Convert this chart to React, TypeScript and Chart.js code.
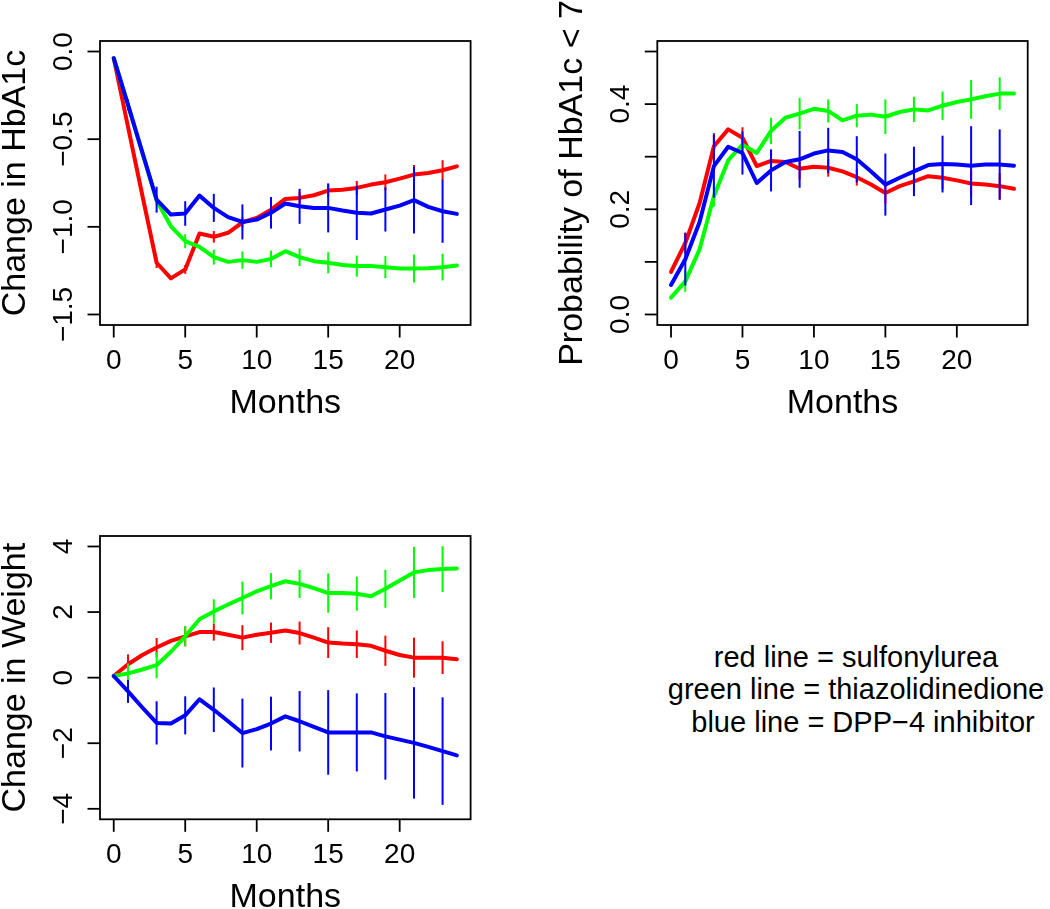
import React, { useEffect, useRef } from "react";
import { Chart, registerables } from "chart.js";

Chart.register(...registerables);

// ---------- data ----------
const months = [0, 1, 2, 3, 4, 5, 6, 7, 8, 9, 10, 11, 12, 13, 14, 15, 16, 17, 18, 19, 20, 21, 22, 23, 24];
const errorMonths = [1, 3, 5, 7, 9, 11, 13, 15, 17, 19, 21, 23];

// Panel 1: Change in HbA1c
const hba1cRed = [-0.038, -0.43, -0.82, -1.205, -1.294, -1.243, -1.038, -1.057, -1.034, -0.974, -0.949, -0.902, -0.841, -0.835, -0.82, -0.793, -0.788, -0.778, -0.759, -0.746, -0.725, -0.702, -0.693, -0.677, -0.655];
const hba1cGreen = [-0.038, -0.304, -0.575, -0.85, -0.997, -1.082, -1.114, -1.173, -1.2, -1.19, -1.2, -1.183, -1.139, -1.173, -1.196, -1.205, -1.218, -1.224, -1.224, -1.23, -1.238, -1.238, -1.236, -1.23, -1.22];
const hba1cBlue = [-0.038, -0.304, -0.575, -0.845, -0.93, -0.924, -0.822, -0.892, -0.945, -0.972, -0.959, -0.92, -0.867, -0.883, -0.892, -0.892, -0.907, -0.92, -0.924, -0.901, -0.879, -0.848, -0.886, -0.911, -0.926];
const hba1cRedErr = [0.02, 0.03, 0.025, 0.033, 0.03, 0.03, 0.035, 0.035, 0.04, 0.045, 0.055, 0.057];
const hba1cGreenErr = [0.02, 0.03, 0.04, 0.043, 0.05, 0.047, 0.05, 0.06, 0.06, 0.063, 0.08, 0.076];
const hba1cBlueErr = [0.03, 0.074, 0.07, 0.08, 0.1, 0.09, 0.1, 0.14, 0.155, 0.126, 0.19, 0.18];

// Panel 2: Probability of HbA1c < 7
const probRed = [0.081, 0.136, 0.212, 0.32, 0.352, 0.336, 0.282, 0.292, 0.29, 0.277, 0.281, 0.279, 0.272, 0.261, 0.247, 0.231, 0.244, 0.253, 0.263, 0.26, 0.255, 0.249, 0.247, 0.244, 0.239];
const probGreen = [0.032, 0.063, 0.124, 0.225, 0.293, 0.323, 0.307, 0.349, 0.374, 0.382, 0.391, 0.387, 0.369, 0.378, 0.38, 0.376, 0.385, 0.39, 0.388, 0.397, 0.404, 0.409, 0.415, 0.42, 0.42];
const probBlue = [0.056, 0.105, 0.176, 0.282, 0.319, 0.307, 0.25, 0.274, 0.29, 0.295, 0.306, 0.312, 0.309, 0.295, 0.272, 0.247, 0.26, 0.272, 0.284, 0.286, 0.285, 0.283, 0.285, 0.285, 0.283];
const probRedErr = [0.02, 0.025, 0.02, 0.02, 0.02, 0.017, 0.016, 0.02, 0.022, 0.022, 0.025, 0.025];
const probGreenErr = [0.02, 0.02, 0.02, 0.025, 0.03, 0.022, 0.022, 0.033, 0.024, 0.027, 0.037, 0.031];
const probBlueErr = [0.05, 0.06, 0.041, 0.04, 0.054, 0.043, 0.044, 0.059, 0.047, 0.054, 0.075, 0.067];

// Panel 3: Change in Weight
const weightRed = [0.05, 0.41, 0.69, 0.92, 1.12, 1.26, 1.39, 1.39, 1.31, 1.22, 1.31, 1.37, 1.44, 1.36, 1.22, 1.07, 1.04, 1.02, 0.97, 0.82, 0.69, 0.61, 0.61, 0.61, 0.56];
const weightGreen = [0.05, 0.13, 0.25, 0.38, 0.79, 1.26, 1.78, 2.02, 2.23, 2.43, 2.63, 2.79, 2.94, 2.86, 2.73, 2.58, 2.58, 2.56, 2.48, 2.71, 2.96, 3.21, 3.28, 3.31, 3.33];
const weightBlue = [0.05, -0.42, -0.91, -1.38, -1.4, -1.15, -0.66, -0.98, -1.33, -1.69, -1.57, -1.4, -1.18, -1.33, -1.5, -1.67, -1.67, -1.67, -1.67, -1.79, -1.89, -1.99, -2.11, -2.24, -2.37];
const weightRedErr = [0.3, 0.29, 0.3, 0.26, 0.38, 0.31, 0.35, 0.47, 0.42, 0.46, 0.61, 0.5];
const weightGreenErr = [0.3, 0.4, 0.31, 0.37, 0.5, 0.4, 0.43, 0.6, 0.52, 0.58, 0.78, 0.7];
const weightBlueErr = [0.35, 0.66, 0.58, 0.68, 1.05, 0.82, 0.92, 1.29, 1.19, 1.32, 1.7, 1.64];

// ---------- axes ----------
const xTicks = [0, 5, 10, 15, 20];
const xTickLabels = ["0", "5", "10", "15", "20"];
const hba1cTicks = [-1.5, -1, -0.5, 0];
const hba1cTickLabels = ["\u22121.5", "\u22121.0", "\u22120.5", "0.0"];
const probTicks = [0, 0.1, 0.2, 0.3, 0.4, 0.5];
const probTickLabels = ["0.0", "", "0.2", "", "0.4", ""];
const weightTicks = [-4, -2, 0, 2, 4];
const weightTickLabels = ["\u22124", "\u22122", "0", "2", "4"];

const legendLines = [
  "red line = sulfonylurea",
  "green line = thiazolidinedione",
  "blue line = DPP\u22124 inhibitor",
];

const RED = "#FF0000";
const GREEN = "#00FF00";
const BLUE = "#0000FF";
const FONT = "'Liberation Sans', Arial, Helvetica, sans-serif";

type Series = { values: number[]; err: number[]; color: string };
type PanelProps = {
  left: number;
  top: number;
  width: number;
  height: number;
  pad: { left: number; top: number; right: number; bottom: number };
  yMin: number;
  yMax: number;
  yTicks: number[];
  yTickLabels: string[];
  yTitle: string;
  series: Series[]; // index 0 drawn on top
};

function Panel(p: PanelProps) {
  const ref = useRef<HTMLCanvasElement>(null);
  useEffect(() => {
    const canvas = ref.current as HTMLCanvasElement;
    const rPlugin = {
      id: "rAxes",
      afterDatasetDraw(chart: any, args: any) {
        const s = p.series[args.index];
        const { ctx } = chart;
        const xs = chart.scales.x;
        const ys = chart.scales.y;
        ctx.save();
        ctx.strokeStyle = s.color;
        ctx.lineWidth = 2;
        ctx.lineCap = "butt";
        errorMonths.forEach((m, i) => {
          const v = s.values[months.indexOf(m)];
          const e = s.err[i];
          const px = xs.getPixelForValue(m);
          ctx.beginPath();
          ctx.moveTo(px, ys.getPixelForValue(v - e));
          ctx.lineTo(px, ys.getPixelForValue(v + e));
          ctx.stroke();
        });
        ctx.restore();
      },
      afterDraw(chart: any) {
        const { ctx, chartArea: a } = chart;
        const xs = chart.scales.x;
        const ys = chart.scales.y;
        ctx.save();
        ctx.strokeStyle = "#000";
        ctx.fillStyle = "#000";
        ctx.lineWidth = 1.8;
        ctx.strokeRect(a.left, a.top, a.right - a.left, a.bottom - a.top);
        // x axis
        ctx.font = `28px ${FONT}`;
        ctx.textAlign = "center";
        ctx.textBaseline = "alphabetic";
        xTicks.forEach((t, i) => {
          const px = xs.getPixelForValue(t);
          ctx.beginPath();
          ctx.moveTo(px, a.bottom);
          ctx.lineTo(px, a.bottom + 12.5);
          ctx.stroke();
          ctx.fillText(xTickLabels[i], px, a.bottom + 43.5);
        });
        ctx.font = `34px ${FONT}`;
        ctx.fillText("Months", (a.left + a.right) / 2, a.bottom + 88);
        // y axis
        ctx.font = `28px ${FONT}`;
        p.yTicks.forEach((t, i) => {
          const py = ys.getPixelForValue(t);
          ctx.beginPath();
          ctx.moveTo(a.left - 12.5, py);
          ctx.lineTo(a.left, py);
          ctx.stroke();
          if (p.yTickLabels[i]) {
            ctx.save();
            ctx.translate(a.left - 28, py);
            ctx.rotate(-Math.PI / 2);
            ctx.fillText(p.yTickLabels[i], 0, 0);
            ctx.restore();
          }
        });
        ctx.font = `34px ${FONT}`;
        ctx.save();
        ctx.translate(a.left - 75, (a.top + a.bottom) / 2);
        ctx.rotate(-Math.PI / 2);
        ctx.fillText(p.yTitle, 0, 0);
        ctx.restore();
        ctx.restore();
      },
    };
    const chart = new Chart(canvas, {
      type: "line",
      data: {
        datasets: p.series.map((s) => ({
          data: months.map((m, i) => ({ x: m, y: s.values[i] })),
          borderColor: s.color,
          backgroundColor: s.color,
          borderWidth: 4,
          pointRadius: 0,
          fill: false,
          tension: 0,
          borderCapStyle: "round",
          borderJoinStyle: "round",
        })),
      },
      options: {
        responsive: false,
        animation: false,
        devicePixelRatio: 1,
        layout: { padding: p.pad },
        plugins: { legend: { display: false }, tooltip: { enabled: false }, title: { display: false } },
        scales: {
          x: { type: "linear", display: false, min: -0.96, max: 24.96 },
          y: { type: "linear", display: false, min: p.yMin, max: p.yMax },
        },
      },
      plugins: [rPlugin],
    } as any);
    return () => chart.destroy();
  }, []);
  return (
    <canvas
      ref={ref}
      width={p.width}
      height={p.height}
      style={{ position: "absolute", left: p.left, top: p.top, width: p.width, height: p.height }}
    />
  );
}

const legendCenters = [856, 856, 863];
const legendBaselines = [667, 699.5, 732];

export default function App() {
  return (
    <div style={{ position: "absolute", left: 0, top: 0, width: 1050, height: 909, background: "#fff", overflow: "hidden" }}>
      <Panel
        left={0}
        top={0}
        width={525}
        height={454}
        pad={{ left: 100, top: 41, right: 54.4, bottom: 129 }}
        yMin={-1.56}
        yMax={0.06}
        yTicks={hba1cTicks}
        yTickLabels={hba1cTickLabels}
        yTitle="Change in HbA1c"
        series={[
          { values: hba1cBlue, err: hba1cBlueErr, color: BLUE },
          { values: hba1cGreen, err: hba1cGreenErr, color: GREEN },
          { values: hba1cRed, err: hba1cRedErr, color: RED },
        ]}
      />
      <Panel
        left={525}
        top={0}
        width={525}
        height={454}
        pad={{ left: 132.3, top: 41, right: 22.3, bottom: 129 }}
        yMin={-0.02}
        yMax={0.52}
        yTicks={probTicks}
        yTickLabels={probTickLabels}
        yTitle="Probability of HbA1c < 7"
        series={[
          { values: probBlue, err: probBlueErr, color: BLUE },
          { values: probGreen, err: probGreenErr, color: GREEN },
          { values: probRed, err: probRedErr, color: RED },
        ]}
      />
      <Panel
        left={0}
        top={454}
        width={525}
        height={455}
        pad={{ left: 100, top: 82, right: 54.4, bottom: 89.7 }}
        yMin={-4.32}
        yMax={4.32}
        yTicks={weightTicks}
        yTickLabels={weightTickLabels}
        yTitle="Change in Weight"
        series={[
          { values: weightBlue, err: weightBlueErr, color: BLUE },
          { values: weightGreen, err: weightGreenErr, color: GREEN },
          { values: weightRed, err: weightRedErr, color: RED },
        ]}
      />
      {legendLines.map((t, i) => (
        <div
          key={i}
          style={{
            position: "absolute",
            left: legendCenters[i] - 300,
            width: 600,
            top: legendBaselines[i] - 24.5,
            fontFamily: FONT,
            fontSize: 29,
            lineHeight: "29px",
            textAlign: "center",
            whiteSpace: "nowrap",
            color: "#000",
          }}
        >
          {t}
        </div>
      ))}
    </div>
  );
}
